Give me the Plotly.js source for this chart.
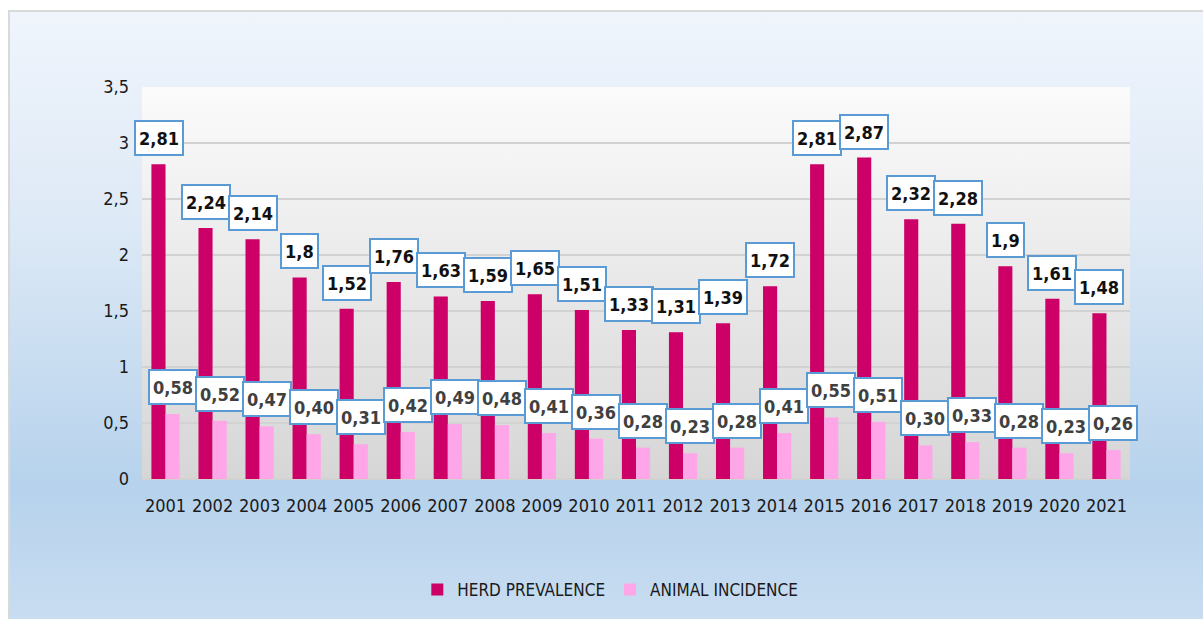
<!DOCTYPE html>
<html>
<head>
<meta charset="utf-8">
<script src="https://cdn.plot.ly/plotly-3.0.1.min.js"></script>
<style>
  html, body { margin: 0; padding: 0; width: 1203px; height: 619px; overflow: hidden; background: #ffffff; }
  #frame { position: absolute; left: 8px; top: 10px; width: 1200px; height: 614px;
    border: 2px solid #d9d9d9; box-sizing: border-box;
    background: linear-gradient(to bottom, #f0f5fc 0%, #dde9f6 35%, #b6d2ec 78%, #c9ddf1 100%); }
  #chart { position: absolute; left: 0; top: 0; width: 1203px; height: 619px; }
  #chart text { font-stretch: condensed; }
</style>
</head>
<body>
<div id="frame"></div>
<div id="chart"></div>
<script>
const years = ["2001","2002","2003","2004","2005","2006","2007","2008","2009","2010","2011","2012","2013","2014","2015","2016","2017","2018","2019","2020","2021"];
const herdPrevalence = [2.81,2.24,2.14,1.8,1.52,1.76,1.63,1.59,1.65,1.51,1.33,1.31,1.39,1.72,2.81,2.87,2.32,2.28,1.9,1.61,1.48];
const animalIncidence = [0.58,0.52,0.47,0.40,0.31,0.42,0.49,0.48,0.41,0.36,0.28,0.23,0.28,0.41,0.55,0.51,0.30,0.33,0.28,0.23,0.26];
const yTicks = [0,0.5,1,1.5,2,2.5,3,3.5];
const yTickText = ["0","0,5","1","1,5","2","2,5","3","3,5"];

const FONT = '"DejaVu Sans Condensed", "Liberation Sans Narrow", "DejaVu Sans", sans-serif';
const HERD_COLOR = '#cc0066';
const ANIMAL_COLOR = '#ffa6e8';

const traces = [
  { type: 'bar', name: 'HERD PREVALENCE', x: years, y: herdPrevalence,
    marker: { color: HERD_COLOR }, hoverinfo: 'x+y' },
  { type: 'bar', name: 'ANIMAL INCIDENCE', x: years, y: animalIncidence,
    marker: { color: ANIMAL_COLOR }, hoverinfo: 'x+y' }
];

const annotations = [];
years.forEach((yr, i) => {
  annotations.push({
    x: i, y: herdPrevalence[i], xref: 'x', yref: 'y',
    text: String(herdPrevalence[i]).replace('.', ','),
    showarrow: false, xanchor: 'center', yanchor: 'bottom',
    xshift: -7, yshift: 8, height: 26,
    font: { family: FONT, size: 18, color: '#111111', weight: 'bold' },
    bgcolor: '#ffffff', bordercolor: '#5b9bd5', borderwidth: 2, borderpad: 3
  });
  annotations.push({
    x: i, y: animalIncidence[i], xref: 'x', yref: 'y',
    text: animalIncidence[i].toFixed(2).replace('.', ','),
    showarrow: false, xanchor: 'center', yanchor: 'bottom',
    xshift: 7, yshift: 9, height: 26,
    font: { family: FONT, size: 18, color: '#404040', weight: 'bold' },
    bgcolor: '#ffffff', bordercolor: '#5b9bd5', borderwidth: 2, borderpad: 3
  });
});

const gradSvg = '<svg xmlns="http://www.w3.org/2000/svg" width="100" height="100" preserveAspectRatio="none">' +
  '<defs><linearGradient id="g" x1="0" y1="0" x2="0" y2="1">' +
  '<stop offset="0" stop-color="#fbfbfb"/><stop offset="1" stop-color="#d6d6d6"/>' +
  '</linearGradient></defs><rect width="100" height="100" fill="url(#g)"/></svg>';

const layout = {
  width: 1203, height: 619,
  margin: { l: 142, r: 73, t: 87, b: 139 },
  paper_bgcolor: 'rgba(0,0,0,0)',
  plot_bgcolor: 'rgba(0,0,0,0)',
  barmode: 'group', bargap: 0.4, bargroupgap: 0,
  font: { family: FONT, size: 18, color: '#1a1a1a' },
  xaxis: {
    type: 'category', showgrid: false, zeroline: false,
    showline: false, ticks: '', ticklen: 0, range: [-0.5, 20.5],
    ticklabelstandoff: 14,
    tickfont: { family: FONT, size: 18, color: '#1a1a1a' }
  },
  yaxis: {
    range: [0, 3.5], tickvals: yTicks, ticktext: yTickText,
    showgrid: true, gridcolor: '#d2d2d2', gridwidth: 2,
    zeroline: true, zerolinecolor: '#d2d2d2', zerolinewidth: 2,
    showline: false, ticks: '', ticklabelstandoff: 12,
    tickfont: { family: FONT, size: 18, color: '#1a1a1a' }
  },
  showlegend: true,
  legend: {
    orientation: 'h', x: 0.474, xanchor: 'center', y: -0.28, yanchor: 'middle',
    bgcolor: 'rgba(0,0,0,0)', font: { family: FONT, size: 17, color: '#1a1a1a' },
    itemwidth: 30
  },
  images: [{
    source: 'data:image/svg+xml;charset=utf-8,' + encodeURIComponent(gradSvg),
    xref: 'paper', yref: 'paper', x: 0, y: 1, sizex: 1, sizey: 1,
    xanchor: 'left', yanchor: 'top', sizing: 'stretch', layer: 'below'
  }],
  annotations: annotations
};

Plotly.newPlot('chart', traces, layout, { displayModeBar: false, staticPlot: true });
</script>
</body>
</html>
